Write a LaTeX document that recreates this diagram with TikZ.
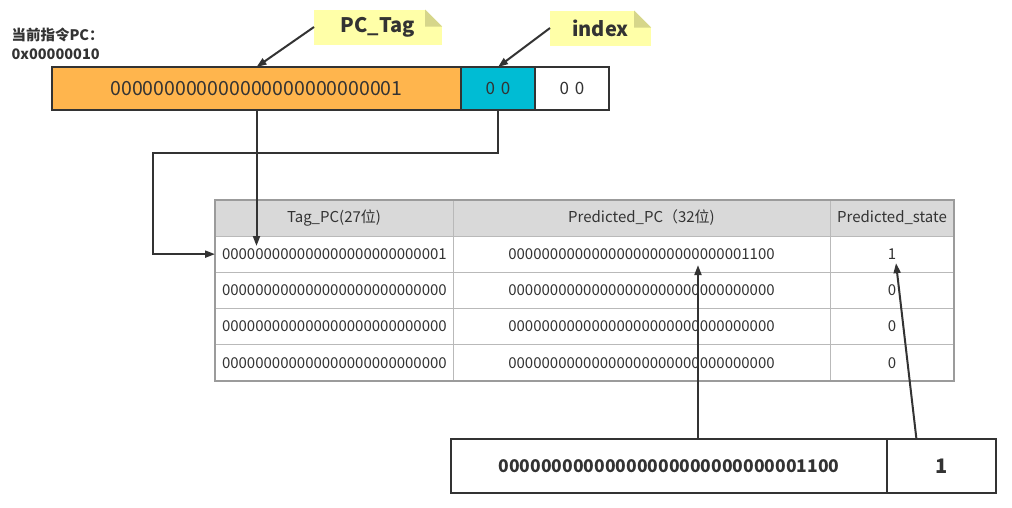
\documentclass[tikz,border=0pt]{standalone}
\usepackage{fontspec}
\setmainfont{Noto Sans CJK SC}
\usepackage{xcolor}
\definecolor{TagOrange}{RGB}{255,181,77}
\definecolor{IdxCyan}{RGB}{0,188,212}
\definecolor{NoteYellow}{RGB}{255,255,168}
\definecolor{NoteFold}{RGB}{214,214,138}
\definecolor{LineDark}{RGB}{51,51,51}
\definecolor{HeadGray}{RGB}{217,217,217}
\definecolor{GridGray}{RGB}{155,155,155}
\usepackage{tikz}
\usetikzlibrary{calc, positioning, arrows.meta}
\newcommand{\TagOne}{000000000000000000000000001}
\newcommand{\TagZero}{000000000000000000000000000}
\newcommand{\PcOne}{00000000000000000000000000001100}
\newcommand{\PcZero}{00000000000000000000000000000000}
\newcommand{\notefold}[1]{%
    \fill[white] (#1.north east) -- ++(-17,0) -- ++(17,17) -- cycle;
    \fill[NoteFold] ($(#1.north east)+(-17,0)$) -- ++(0,17) -- ++(17,0) -- cycle;}

\begin{document}
\begin{tikzpicture}[
    x=1pt, y=-1pt,
    text=LineDark,
    >={Triangle[length=10pt, width=7pt]},
    % Styles
    field/.style={rectangle, draw=LineDark, line width=2pt, outer sep=0pt, minimum height=43pt, inner sep=0pt, font=\fontsize{19.5}{22}\selectfont},
    note/.style={rectangle, fill=NoteYellow, outer sep=0pt, minimum height=35pt, inner sep=0pt, font=\bfseries\fontsize{20}{24}\selectfont},
    cell/.style={rectangle, draw=GridGray!70, line width=1pt, outer sep=0pt, minimum height=36.25pt, inner sep=0pt, font=\fontsize{15}{18}\selectfont},
    leftcell/.style={cell, text width=224pt, inner xsep=7pt, align=left},
    head/.style={cell, fill=HeadGray, minimum height=36pt, font=\fontsize{15}{18}\selectfont},
    outbox/.style={rectangle, draw=LineDark, line width=2pt, outer sep=0pt, minimum height=54pt, inner sep=0pt, font=\bfseries\fontsize{17.5}{20}\selectfont},
    link/.style={->, draw=LineDark, line width=2pt}
]
    \useasboundingbox (0,0) rectangle (1012,507);

    % 1. CURRENT PC (split into tag / index / offset)
    \node[anchor=west, align=left, font=\bfseries\fontsize{14.5}{19}\selectfont] (pclabel) at (8,44) {当前指令PC：\\0x00000010};
    \node[field, fill=TagOrange, minimum width=409pt] (tagbox) at (256.5,88.5) {\TagOne};
    \node[field, fill=IdxCyan, minimum width=74pt, right=0pt of tagbox, font=\fontsize{17}{20}\selectfont] (idxbox) {0\,\,0};
    \node[field, fill=white, minimum width=74pt, right=0pt of idxbox, font=\fontsize{17}{20}\selectfont] (offbox) {0\,\,0};

    % 2. NOTES
    \node[note, minimum width=128pt] (tagnote) at (378,27) {PC\_Tag};
    \notefold{tagnote}
    \node[note, minimum width=101pt] (idxnote) at (600.5,28) {index};
    \notefold{idxnote}
    \draw[link] (tagnote.west) -- (tagbox.north);
    \draw[link] (idxnote.west) -- (idxbox.north);

    % 3. THE TABLE
    \node[head, minimum width=238pt, anchor=north west] (r0c1) at (215,200) {Tag\_PC(27位)};
    \node[head, minimum width=377pt, right=0pt of r0c1] (r0c2) {Predicted\_PC（32位)};
    \node[head, minimum width=124pt, right=0pt of r0c2] (r0c3) {Predicted\_state};
    \foreach \r/\tag/\pc/\st [remember=\r as \p (initially 0)] in {1/\TagOne/\PcOne/1, 2/\TagZero/\PcZero/0, 3/\TagZero/\PcZero/0, 4/\TagZero/\PcZero/0} {
        \node[leftcell, below=0pt of r\p c1] (r\r c1) {\tag};
        \node[cell, minimum width=377pt, right=0pt of r\r c1] (r\r c2) {\pc};
        \node[cell, minimum width=124pt, right=0pt of r\r c2] (r\r c3) {\st};
    }
    \draw[GridGray, line width=2pt] (r0c1.north west) rectangle (r4c3.south east);

    % 4. LOOKUP LINES
    \coordinate (tagtip) at ($(r1c1.north)+(0,10)$);
    \draw[link] (tagbox.south) -- (tagbox.south |- tagtip);
    \draw[link] (idxbox.south) -- ++(0,43) -| ($(r1c1.west)+(-62,0)$) -- (r1c1.west);

    % 5. THE OUTPUT
    \node[outbox, minimum width=436pt] (outpc) at (669,466) {\PcOne};
    \node[outbox, minimum width=109pt, right=0pt of outpc, font=\bfseries\fontsize{20}{24}\selectfont] (outstate) {1};
    \coordinate (pcfoot) at ($(outpc.north west)!0.5665!(outpc.north east)$);
    \coordinate (stfoot) at ($(outstate.north west)!0.27!(outstate.north east)$);
    \draw[link] (pcfoot) -- ($(pcfoot |- r1c2.center)+(0,11)$);
    \draw[link] (stfoot) -- ($(r1c3.center)+(4,9)$);

\end{tikzpicture}
\end{document}
